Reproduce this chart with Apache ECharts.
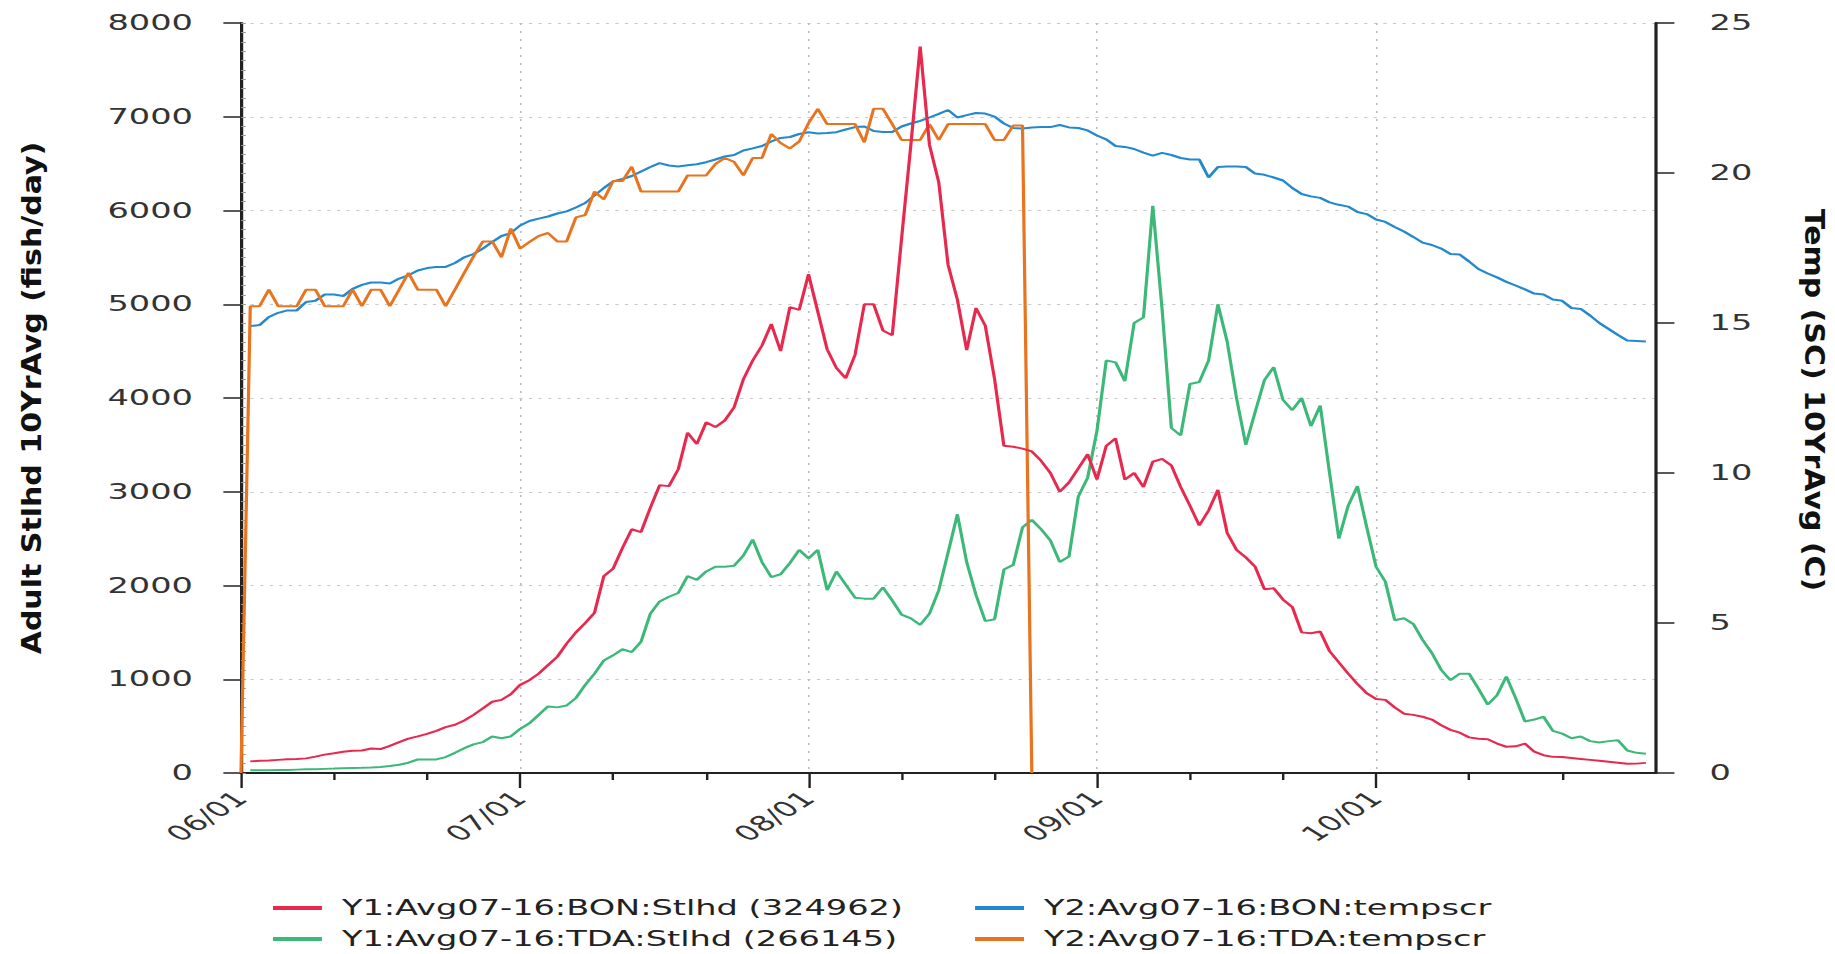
<!DOCTYPE html>
<html>
<head>
<meta charset="utf-8">
<script src="https://cdn.jsdelivr.net/npm/echarts@6/dist/echarts.min.js"></script>
<style>
  html, body { margin: 0; padding: 0; background: #fff; overflow: hidden; }
  #wrap { width: 1835px; height: 954px; overflow: hidden; position: relative; }
  #chart { position: absolute; left: 0; top: 0; height: 954px; transform-origin: 0 0; }
</style>
</head>
<body>
<div id="wrap"><div id="chart"></div></div>
<script>
// ---------------- data ----------------
const months = ['06', '07', '08', '09', '10'];
const monthDays = [30, 31, 31, 30, 31];
const categories = [];
months.forEach((m, k) => { for (let d = 1; d <= monthDays[k]; d++) categories.push(m + '/' + String(d).padStart(2, '0')); });

const leftTicks = [0, 8000, 1000];   // min, max, interval
const rightTicks = [0, 25, 5];

const names = {
  bonFish: 'Y1:Avg07-16:BON:Stlhd (324962)',
  tdaFish: 'Y1:Avg07-16:TDA:Stlhd (266145)',
  bonTemp: 'Y2:Avg07-16:BON:tempscr',
  tdaTemp: 'Y2:Avg07-16:TDA:tempscr'
};

const bonFish = [null,
  124,130,134,140,146,150,156,175,196,211,227,237,240,262,255,290,330,366,391,417,
  450,490,515,560,620,690,760,780,840,940,990,1060,1150,1240,1380,1500,1600,1710,2100,2180,
  2400,2600,2570,2830,3070,3060,3240,3630,3510,3740,3690,3760,3900,4200,4400,4560,4790,4500,4970,4940,
  5320,4920,4520,4320,4210,4460,5000,5000,4720,4670,5700,6700,7750,6700,6300,5420,5050,4510,4960,4770,
  4200,3490,3480,3460,3430,3330,3200,3000,3100,3250,3400,3130,3490,3570,3130,3200,3050,3320,3350,3280,
  3050,2850,2640,2800,3020,2560,2380,2300,2200,1960,1970,1850,1770,1500,1490,1510,1300,1180,1060,950,
  850,790,780,700,633,620,600,570,510,460,430,380,366,360,314,280,285,314,227,190,
  172,170,160,150,140,130,120,110,98,100,108];

const tdaFish = [null,
  30,30,30,32,33,36,39,41,44,47,51,53,55,58,65,75,88,110,144,144,
  145,170,215,265,305,330,390,370,390,470,530,620,710,700,720,800,940,1060,1200,1255,
  1320,1290,1400,1700,1830,1880,1920,2100,2060,2150,2200,2200,2210,2320,2490,2250,2090,2120,2240,2380,
  2290,2380,1950,2150,2010,1870,1860,1860,1980,1840,1690,1650,1580,1700,1950,2350,2760,2250,1900,1620,
  1640,2170,2220,2620,2700,2600,2480,2250,2310,2950,3150,3650,4400,4380,4180,4800,4860,6050,4950,3680,
  3600,4150,4170,4400,5000,4600,4000,3500,3850,4190,4330,3980,3870,4000,3700,3920,3200,2500,2850,3060,
  2620,2200,2040,1630,1650,1590,1420,1280,1100,990,1060,1060,900,730,830,1030,800,550,570,600,
  450,420,370,390,340,325,340,350,240,215,205];

const bonTemp = [null,
  14.9,14.93,15.2,15.34,15.42,15.42,15.7,15.74,15.95,15.95,15.9,16.14,16.27,16.35,16.35,16.32,16.48,16.59,16.75,16.83,
  16.87,16.87,17.0,17.19,17.3,17.48,17.7,17.9,18.0,18.25,18.4,18.48,18.55,18.65,18.72,18.85,19.0,19.25,19.5,19.72,
  19.8,19.9,20.05,20.2,20.33,20.25,20.22,20.26,20.29,20.36,20.45,20.55,20.6,20.75,20.82,20.9,21.05,21.17,21.2,21.3,
  21.36,21.32,21.33,21.36,21.45,21.53,21.55,21.4,21.37,21.37,21.55,21.65,21.74,21.85,21.97,22.1,21.85,21.93,22.0,21.98,
  21.88,21.65,21.5,21.48,21.52,21.53,21.53,21.6,21.52,21.5,21.42,21.25,21.12,20.9,20.87,20.8,20.68,20.58,20.67,20.6,
  20.5,20.45,20.45,19.85,20.2,20.22,20.22,20.2,19.98,19.94,19.85,19.75,19.5,19.3,19.22,19.17,19.02,18.94,18.88,18.7,
  18.63,18.45,18.37,18.2,18.05,17.87,17.68,17.6,17.48,17.3,17.28,17.05,16.8,16.65,16.52,16.37,16.25,16.12,15.98,15.95,
  15.78,15.74,15.5,15.47,15.25,15.0,14.8,14.6,14.42,14.4,14.38];

const tdaTemp = [0,
  15.56,15.56,16.11,15.56,15.56,15.56,16.11,16.11,15.56,15.56,15.56,16.11,15.56,16.11,16.11,15.56,16.11,16.67,16.11,16.11,
  16.11,15.56,16.11,16.67,17.22,17.72,17.72,17.19,18.15,17.48,17.7,17.9,18.0,17.72,17.72,18.52,18.6,19.38,19.12,19.73,
  19.73,20.21,19.38,19.38,19.38,19.38,19.38,19.92,19.92,19.92,20.3,20.5,20.37,19.92,20.5,20.5,21.3,21.0,20.82,21.05,
  21.66,22.14,21.63,21.63,21.63,21.63,21.02,22.14,22.14,21.63,21.1,21.1,21.1,21.63,21.1,21.63,21.63,21.63,21.63,21.63,
  21.1,21.1,21.58,21.58,0];

// ---------------- styling ----------------
const S = 1.6;                      // horizontal stretch of the reference image
const W = 1835 / S;
const chartDom = document.getElementById('chart');
chartDom.style.width = W + 'px';
chartDom.style.transform = 'scaleX(' + S + ')';

const colors = { bonFish: '#e8294e', tdaFish: '#3cb878', bonTemp: '#2389cf', tdaTemp: '#e8741f' };
const FONT = 'DejaVu Sans';
const axisColor = '#222';
const labelColor = '#333';
const isMonthStart = (i, v) => v.slice(3) === '01';
const isMinor = (i, v) => v.slice(3) === '11' || v.slice(3) === '21';

const chart = echarts.init(chartDom, null, { renderer: 'svg' });

function lineSeries(key, data, yIdx) {
  return {
    name: names[key], type: 'line', xAxisIndex: 0, yAxisIndex: yIdx, data: data,
    symbol: 'none', showSymbol: false, connectNulls: false,
    lineStyle: { width: 2, color: colors[key] }, itemStyle: { color: colors[key] }
  };
}

function legendItem(key, left, top) {
  return {
    orient: 'horizontal', icon: 'rect', itemWidth: 30.6, itemHeight: 4, padding: 0,
    left: left, top: top, selectedMode: false, data: [names[key]],
    textStyle: { fontFamily: FONT, fontSize: 21, color: '#222', lineHeight: 26, padding: [0, 0, 0, 7.5] }
  };
}

chart.setOption({
  animation: false,
  backgroundColor: '#fff',
  grid: { left: 150.6, right: 112.5, top: 23, bottom: 181, show: false },
  legend: [
    legendItem('bonFish', 170.6, 895),
    legendItem('tdaFish', 170.6, 926),
    legendItem('bonTemp', 609.4, 895),
    legendItem('tdaTemp', 609.4, 926)
  ],
  xAxis: [
    {
      type: 'category', data: categories, boundaryGap: false, position: 'bottom',
      axisLine: { show: true, lineStyle: { color: axisColor, width: 2 } },
      axisTick: { show: true, interval: isMonthStart, length: 15, lineStyle: { color: axisColor, width: 1.5 } },
      axisLabel: { interval: isMonthStart, rotate: 45, margin: 22, fontFamily: FONT, fontSize: 21, color: labelColor },
      splitLine: { show: true, interval: isMonthStart, lineStyle: { color: '#bbb', type: [2, 6], width: 1 } }
    },
    {
      type: 'category', data: categories, boundaryGap: false, position: 'bottom',
      axisLine: { show: false },
      axisTick: { show: true, interval: isMinor, length: 7, lineStyle: { color: axisColor, width: 1.5 } },
      axisLabel: { show: false }, splitLine: { show: false }
    },
    {
      type: 'category', data: categories, boundaryGap: false, position: 'top',
      axisLine: { show: true, lineStyle: { color: axisColor, width: 2 } },
      axisTick: { show: false }, axisLabel: { show: false }, splitLine: { show: false }
    }
  ],
  yAxis: [
    {
      type: 'value', position: 'left', min: leftTicks[0], max: leftTicks[1], interval: leftTicks[2],
      axisLine: { show: true, lineStyle: { color: axisColor, width: 2 } },
      axisTick: { show: true, length: 11, lineStyle: { color: axisColor, width: 1.5 } },
      axisLabel: { margin: 30, fontFamily: FONT, fontSize: 21, color: labelColor, formatter: v => String(v) },
      splitLine: { show: true, lineStyle: { color: '#c8c8c8', type: [2, 4], width: 1 } }
    },
    {
      type: 'value', position: 'right', min: rightTicks[0], max: rightTicks[1], interval: rightTicks[2],
      axisLine: { show: true, lineStyle: { color: axisColor, width: 2 } },
      axisTick: { show: true, length: 12, lineStyle: { color: axisColor, width: 1.5 } },
      axisLabel: { margin: 34, fontFamily: FONT, fontSize: 21, color: labelColor, formatter: v => String(v) },
      splitLine: { show: false }
    },
    {
      type: 'value', position: 'left', min: 0, max: 8000, interval: 100,
      axisLine: { show: false },
      axisTick: { show: true, inside: true, length: 3, lineStyle: { color: '#999', width: 1 } },
      axisLabel: { show: false }, splitLine: { show: false }
    }
  ],
  graphic: [
    {
      type: 'text', x: 19.7, y: 398, rotation: Math.PI / 2, scaleY: 0.9 / S,
      style: { text: 'Adult Stlhd 10YrAvg (fish/day)', font: 'bold 30px "DejaVu Sans"', fill: '#111', align: 'center', verticalAlign: 'middle' }
    },
    {
      type: 'text', x: 1134, y: 400, rotation: -Math.PI / 2, scaleY: 0.9 / S,
      style: { text: 'Temp (SC) 10YrAvg (C)', font: 'bold 30px "DejaVu Sans"', fill: '#111', align: 'center', verticalAlign: 'middle' }
    }
  ],
  series: [
    lineSeries('tdaFish', tdaFish, 0),
    lineSeries('bonTemp', bonTemp, 1),
    lineSeries('tdaTemp', tdaTemp, 1),
    lineSeries('bonFish', bonFish, 0)
  ]
});
</script>
</body>
</html>
